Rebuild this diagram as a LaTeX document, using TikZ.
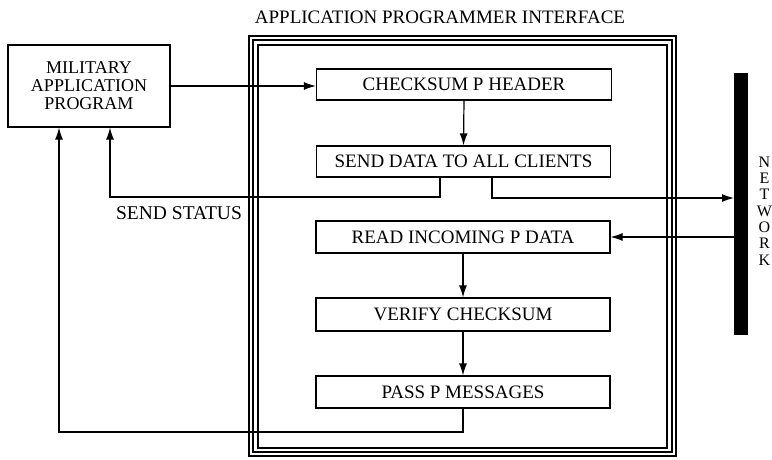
\documentclass[tikz,border=0pt]{standalone}
\usepackage{fontspec}
\setmainfont{Liberation Serif}
\usetikzlibrary{arrows.meta}

\tikzset{
  stage/.style={draw, line width=1.2pt, inner sep=0pt, minimum height=31pt, font=\fontsize{19}{20}\selectfont},
  flow/.style={line width=1.2pt, -{Latex[length=12pt,width=8pt]}},
  wire/.style={line width=1.2pt},
}

\begin{document}
\begin{tikzpicture}[x=1pt, y=-1pt]
\useasboundingbox (0,0) rectangle (772,459);
\node [font=\fontsize{19}{20}\selectfont] (api) at (440,17) {APPLICATION PROGRAMMER INTERFACE};
\draw [wire] (249,36) rectangle (676,456); % frame
\draw [wire] (253,40) rectangle (672,452);
\draw [wire] (258,45) rectangle (667,448);
\node [stage, minimum width=162pt, minimum height=82pt, align=center, font=\fontsize{18}{18}\selectfont] (mil) at (89,86) {MILITARY\\APPLICATION\\PROGRAM};
\node [stage, minimum width=295pt] (chk) at (464,84.5) {CHECKSUM P HEADER};
\node [stage, minimum width=294pt] (send) at (463.5,161.5) {SEND DATA TO ALL CLIENTS};
\node [stage, minimum width=294pt, minimum height=32pt] (read) at (463,237) {READ INCOMING P DATA};
\node [stage, minimum width=294pt, minimum height=33pt] (verify) at (463,314.5) {VERIFY CHECKSUM};
\node [stage, minimum width=294pt, minimum height=32pt] (pass) at (463,392) {PASS P MESSAGES};
\node [fill=black, minimum width=14pt, minimum height=262pt, inner sep=0pt] (net) at (741,204) {};
\node [align=center, inner sep=0pt, font=\fontsize{16}{16.3}\selectfont] (nettxt) at (764.5,211) {N\\E\\T\\W\\O\\R\\K};
\node [font=\fontsize{19.5}{21}\selectfont] (status) at (179,213) {SEND STATUS};
\coordinate (sstat) at (110,197);
\coordinate (tx) at (734,198);
\coordinate (ret) at (59,432);
\draw [flow] (mil.east) -- (mil.east -| chk.west);
\draw [flow] (chk.south) -- (send.north);
\draw [flow] ([xshift=-23.5pt]send.south) |- (sstat) -- (sstat |- mil.south);
\draw [flow] ([xshift=28.5pt]send.south) |- (tx);
\draw [flow] (net.west |- read.east) -- (read.east);
\draw [flow] (read.south) -- (verify.north);
\draw [flow] (verify.south) -- (pass.north);
\draw [flow] (pass.south) |- (ret) -- (ret |- mil.south);
\end{tikzpicture}
\end{document}
